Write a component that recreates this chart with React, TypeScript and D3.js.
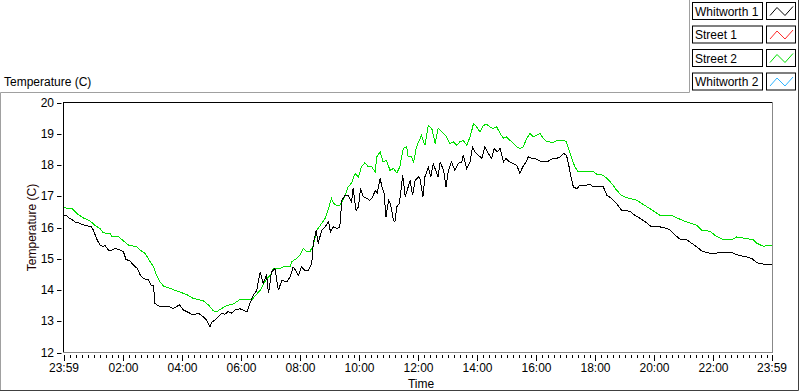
import React from "react";
import * as d3 from "d3";

const W = 800;
const H = 392;

const seriesNames = ["Whitworth 1", "Street 1", "Street 2", "Whitworth 2"];
const seriesColors = ["#000000", "#ff2a2a", "#00e000", "#2eb4ff"];

const timeTickMinutes = [0, 121, 241, 361, 481, 601, 721, 841, 961, 1081, 1201, 1321, 1440];
const timeTickLabels = ["23:59", "02:00", "04:00", "06:00", "08:00", "10:00", "12:00", "14:00", "16:00", "18:00", "20:00", "22:00", "23:59"];
const tempTicks = [12, 13, 14, 15, 16, 17, 18, 19, 20];

// minutes since 23:59
const whitworth1Minutes = [
  0, 5, 11, 16, 22, 29, 36, 43, 56, 60, 66, 73, 80, 83, 90, 97, 104, 114, 121, 126,
  134, 141, 149, 155, 161, 172, 178, 182, 185, 192, 202, 212, 222, 229, 235, 243, 253, 263, 273, 283,
  290, 297, 300, 307, 314, 321, 327, 334, 341, 348, 355, 358,
  372, 378, 385, 392, 399, 405, 412, 416, 422, 429, 436, 443, 453, 460, 466, 473, 477, 483, 490, 497,
  504, 507, 513, 517, 524, 531, 538, 542, 548, 555, 561, 565, 572, 578, 585, 588, 594, 599, 603, 609,
  616, 622, 628, 633, 637, 643, 646, 651, 655, 660, 664, 670, 673, 677, 682, 689, 694, 698, 704, 709,
  714, 721, 724,
  730, 734, 741, 746, 751, 757, 761, 765, 772, 777, 782, 788, 795, 802, 809, 812, 819, 826, 831, 836,
  843, 850, 856, 863, 870, 875, 881, 887, 894, 899, 906, 913, 921, 927, 933, 940, 944, 951, 958, 965,
  972, 982, 988, 995, 1002, 1009, 1016, 1022, 1026, 1031, 1036, 1043, 1049, 1060, 1070, 1077, 1087, 1097, 1104, 1114,
  1124,
  1134, 1151, 1161, 1172, 1185, 1195, 1212, 1226, 1233, 1243, 1253, 1266, 1277, 1287, 1297, 1314, 1334, 1358, 1372, 1388,
  1399, 1409, 1422, 1440,
];
const whitworth1Temps = [
  16.39, 16.39, 16.29, 16.26, 16.18, 16.15, 16.1, 16.07, 16.02, 15.91, 15.65, 15.44, 15.38, 15.44, 15.28, 15.28, 15.33, 15.28, 15.22, 14.98,
  14.93, 14.8, 14.69, 14.48, 14.37, 14.32, 14.13, 14.13, 13.57, 13.49, 13.47, 13.49, 13.41, 13.47, 13.52, 13.36, 13.28, 13.2, 13.26, 13.15,
  13.04, 12.83, 12.96, 13.04, 13.15, 13.26, 13.22, 13.31, 13.26, 13.36, 13.38, 13.4,
  13.3, 13.57, 13.83, 13.99, 14.58, 14.21, 14.47, 13.89, 14.58, 14.69, 13.99, 14.31, 14.26, 14.42, 14.74, 14.58, 14.47, 14.74, 14.63, 14.63,
  14.85, 15.49, 15.91, 15.49, 15.91, 16.02, 16.18, 15.86, 16.02, 15.97, 16.02, 16.87, 17.03, 17.03, 16.82, 17.25, 16.55, 16.66, 17.25, 16.98,
  16.93, 16.87, 16.98, 17.19, 17.09, 17.57, 17.35, 17.09, 16.34, 16.87, 16.77, 16.23, 16.18, 16.66, 16.77, 17.67, 16.98, 17.19, 17.51, 17.03,
  17.51, 17.62, 17.57,
  16.98, 17.62, 17.94, 17.62, 18.05, 17.78, 17.62, 18.1, 17.83, 17.3, 17.83, 18.1, 17.83, 18.05, 18.1, 18.31, 17.89, 18.1, 18.58, 18.42,
  18.31, 18.21, 18.58, 18.37, 18.21, 18.53, 18.42, 18.53, 18.1, 18.21, 18.1, 18.05, 17.99, 17.73, 17.94, 18.1, 18.26, 18.21, 18.21, 18.15,
  18.1, 18.1, 18.15, 18.21, 18.21, 18.26, 18.37, 18.31, 18.05, 17.62, 17.3, 17.24, 17.35, 17.35, 17.38, 17.3, 17.3, 17.3, 17.03, 16.93,
  16.77,
  16.55, 16.52, 16.39, 16.29, 16.15, 16.02, 16.02, 15.97, 15.91, 15.75, 15.63, 15.61, 15.49, 15.38, 15.25, 15.17, 15.19, 15.2, 15.11, 15.06,
  15.01, 14.87, 14.83, 14.83,
];

const street1Minutes: number[] = [];
const street1Temps: number[] = [];

const street2Minutes = [
  0, 16, 26, 39, 53, 63, 73, 80, 94, 97, 111, 121, 131, 148, 155, 165, 172, 182, 188, 195,
  202, 216, 229, 249, 263, 283, 294, 304, 311, 321, 331, 344, 355, 358,
  382, 388, 399, 409, 422, 426, 439, 446, 460, 463, 473, 480, 487, 494, 500, 507, 514, 524, 531, 538,
  544, 548, 555, 561, 565, 572, 578, 585, 592, 599, 602, 605, 612, 619, 626, 633, 636, 643, 649, 656,
  663, 670, 677, 683, 690, 697, 700, 707, 711, 717, 727, 734, 741, 748, 755, 761, 765,
  772, 778, 785, 792, 799, 805, 812, 819, 826, 833, 839, 846, 853, 860, 866, 873, 880, 887, 894, 900,
  907, 914, 921, 927, 934, 941, 948, 955, 961, 968, 975, 982, 988, 995, 1002, 1016, 1022, 1026, 1033, 1039,
  1046,
  1063, 1077, 1083, 1097, 1104, 1114, 1124, 1134, 1144, 1165, 1175, 1188, 1199, 1212, 1239, 1249, 1266, 1287, 1297, 1314,
  1324, 1338, 1361, 1368, 1385, 1402, 1409, 1422, 1433, 1440,
];
const street2Temps = [
  16.63, 16.61, 16.45, 16.31, 16.21, 16.07, 15.97, 15.83, 15.81, 15.72, 15.7, 15.57, 15.44, 15.38, 15.28, 15.17, 14.99, 14.74, 14.48, 14.27,
  14.13, 14.05, 13.97, 13.86, 13.73, 13.66, 13.52, 13.33, 13.31, 13.41, 13.5, 13.55, 13.66, 13.7,
  13.68, 13.8, 13.99, 14.28, 14.53, 14.69, 14.69, 14.74, 14.74, 14.9, 15.01, 15.11, 15.33, 15.22, 15.22, 15.43, 15.91, 16.13, 16.29, 16.61,
  16.93, 16.77, 16.71, 16.71, 16.82, 17.03, 17.3, 17.43, 17.73, 17.62, 17.78, 17.94, 18.07, 17.94, 17.94, 17.78, 18.26, 18.42, 18.1, 18.15,
  17.83, 17.89, 17.75, 17.94, 18.53, 18.58, 18.26, 18.26, 18.1, 18.58, 18.95, 18.63, 19.27, 19.17, 18.69, 19.17, 19.11,
  19.01, 18.9, 18.69, 18.74, 18.63, 18.74, 18.79, 18.63, 18.9, 19.33, 19.22, 19.06, 19.27, 19.3, 19.22, 19.17, 19.22, 19.01, 18.85, 18.9,
  18.79, 18.69, 18.58, 18.53, 18.58, 18.85, 19.01, 18.9, 18.95, 19.01, 18.85, 18.74, 18.74, 18.71, 18.79, 18.79, 18.74, 18.53, 18.21, 17.94,
  17.78,
  17.78, 17.78, 17.71, 17.67, 17.57, 17.41, 17.19, 17.03, 16.96, 16.87, 16.77, 16.64, 16.53, 16.39, 16.37, 16.29, 16.18, 16.07, 15.91, 15.88,
  15.75, 15.63, 15.63, 15.7, 15.65, 15.61, 15.5, 15.4, 15.43, 15.43,
];

const whitworth2Minutes: number[] = [];
const whitworth2Temps: number[] = [];

const seriesMinutes = [whitworth1Minutes, street1Minutes, street2Minutes, whitworth2Minutes];
const seriesTemps = [whitworth1Temps, street1Temps, street2Temps, whitworth2Temps];

const FONT = "'Liberation Sans', Arial, sans-serif";

export default function App() {
  const left = 64;
  const right = 772;
  const top = 102.5;
  const bottom = 352.5;
  const x = d3.scaleLinear().domain([0, 1440]).range([left, right]);
  const y = d3.scaleLinear().domain([12, 20]).range([bottom, top]);

  const line = d3
    .line<[number, number]>()
    .x((d) => x(d[0]))
    .y((d) => y(d[1]));

  const minorTicks = d3.range(13, 1440, 12).filter((m) => (m - 1) % 120 !== 0);

  const drawOrder = [3, 2, 1, 0];

  return (
    <svg
      width={W}
      height={H}
      style={{ position: "absolute", left: 0, top: 0, background: "#fff" }}
      fontFamily={FONT}
    >
      <rect x={0} y={0} width={W} height={H} fill="#ffffff" />
      {/* outer frame */}
      <path d="M0.5,390 V92.5 H689.5 V0" fill="none" stroke="#a0a0a0" />
      <path d="M0,390.5 H798.5 V0" fill="none" stroke="#404040" />

      {/* title */}
      <text x={4} y={86} fontSize={12} fill="#000">
        Temperature (C)
      </text>

      {/* legend */}
      {seriesNames.map((name, i) => {
        const ty = 2.5 + i * 23.5;
        return (
          <g key={name}>
            <rect x={692.5} y={ty} width={70} height={17} fill="#fff" stroke="#000" />
            <text x={695} y={ty + 13} fontSize={12} fill="#000">
              {name}
            </text>
            <rect x={766.5} y={ty} width={29} height={17} fill="#fff" stroke="#000" />
            <polyline
              points={`${770},${ty + 13} ${777},${ty + 5} ${785},${ty + 13} ${793},${ty + 4}`}
              fill="none"
              stroke={seriesColors[i]}
              strokeWidth={1}
            />
          </g>
        );
      })}

      {/* plot area */}
      <defs>
        <clipPath id="plotclip">
          <rect x={left} y={top - 1} width={right - left} height={bottom - top + 2} />
        </clipPath>
      </defs>
      <g clipPath="url(#plotclip)">
        {drawOrder.map((i) => {
          const pts: [number, number][] = seriesMinutes[i].map((m, k) => [m, seriesTemps[i][k]]);
          if (pts.length === 0) return null;
          return (
            <path
              key={seriesNames[i]}
              d={line(pts) || ""}
              fill="none"
              stroke={seriesColors[i]}
              strokeWidth={1}
              shapeRendering="crispEdges"
            />
          );
        })}
      </g>
      <line x1={63} x2={772.5} y1={102.5} y2={102.5} stroke="#000" />
      <line x1={63.5} x2={63.5} y1={102} y2={353} stroke="#000" />
      <line x1={772.5} x2={772.5} y1={102} y2={353} stroke="#888" />
      <line x1={63} x2={773} y1={352.5} y2={352.5} stroke="#888" />

      {/* y ticks */}
      {tempTicks.map((t) => (
        <g key={t}>
          <line x1={57} x2={61.5} y1={Math.round(y(t)) + 0.5} y2={Math.round(y(t)) + 0.5} stroke="#000" />
          <text x={54} y={y(t) + 4} fontSize={12} textAnchor="end" fill="#000">
            {t}
          </text>
        </g>
      ))}

      {/* x ticks */}
      {minorTicks.map((m) => (
        <line key={m} x1={Math.round(x(m)) + 0.5} x2={Math.round(x(m)) + 0.5} y1={355} y2={358} stroke="#000" />
      ))}
      {timeTickMinutes.map((m, i) => (
        <g key={i}>
          <line x1={Math.round(x(m)) + 0.5} x2={Math.round(x(m)) + 0.5} y1={355} y2={361} stroke="#000" />
          <text x={x(m)} y={372} fontSize={12} textAnchor="middle" fill="#000">
            {timeTickLabels[i]}
          </text>
        </g>
      ))}

      {/* axis labels */}
      <text x={421} y={388} fontSize={12} textAnchor="middle" fill="#000">
        Time
      </text>
      <text
        transform={`translate(36, ${(top + bottom) / 2}) rotate(-90)`}
        fontSize={12}
        textAnchor="middle"
        fill="#200000"
      >
        Temperature (C)
      </text>
    </svg>
  );
}
